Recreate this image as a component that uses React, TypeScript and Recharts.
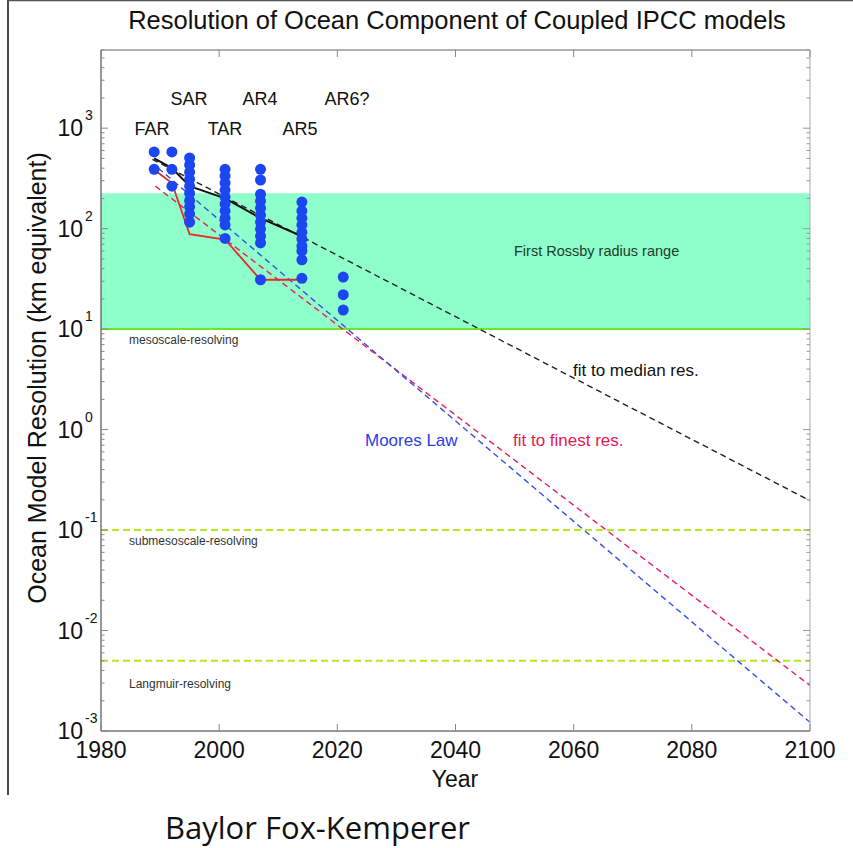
import React from "react";
import {
  ComposedChart,
  Line,
  Scatter,
  XAxis,
  YAxis,
  ReferenceArea,
  ReferenceLine,
} from "recharts";

// axis ticks
const yearTicks = [1980, 2000, 2020, 2040, 2060, 2080, 2100];
const decadeTicks = [0.001, 0.01, 0.1, 1, 10, 100, 1000];
const minorSteps = [2, 3, 4, 5, 6, 7, 8, 9];

// model resolution (km) per IPCC report generation
const modelYears = [1989, 1992, 1995, 2001, 2007, 2014, 2021];
const modelRes = [
  [580, 390],
  [580, 390, 265],
  [505, 430, 365, 310, 265, 225, 190, 165, 140, 116],
  [390, 335, 285, 242, 206, 176, 150, 127, 109, 80],
  [390, 305, 220, 188, 160, 136, 116, 99, 84, 72, 31],
  [184, 150, 127, 109, 92, 79, 67, 60, 49, 32],
  [33, 22, 15.5],
];

// median and finest resolution per report
const trackYears = [1989, 1992, 1995, 2001, 2007, 2014];
const medianRes = [500, 400, 265, 200, 127, 84];
const finestRes = [385, 285, 88, 78, 31, 31];

// straight fits (log space), start and end
const medianFitYears = [1988.7, 2100];
const medianFitRes = [490, 0.196];
const finestFitYears = [1989.2, 2100];
const finestFitRes = [265, 0.00284];
const mooreYears = [1989.7, 2100];
const mooreRes = [400, 0.00122];

// regimes
const rossbyBand = [10, 225];
const submesoLimit = 0.1;
const langmuirLimit = 0.005;

const FONT = "'Liberation Sans', Arial, Helvetica, sans-serif";

const pairs = (xs: number[], ys: number[]) =>
  xs.map((year, i) => ({ year, km: ys[i] }));

const dots = modelYears.flatMap((year, i) =>
  modelRes[i].map((km) => ({ year, km }))
);

const logTicks = [
  ...decadeTicks,
  ...decadeTicks.flatMap((d) => minorSteps.map((m) => d * m)),
].filter((v) => v <= 6000);

const isMajor = (v: number) => {
  const l = Math.log10(v);
  return Math.abs(l - Math.round(l)) < 1e-6;
};

const LeftTick = (props: any) => {
  const { x, y, payload } = props;
  const v = payload.value;
  const major = isMajor(v);
  const exp = Math.round(Math.log10(v));
  return (
    <g>
      <line x1={x} x2={x + (major ? 7 : 3.5)} y1={y} y2={y} stroke="#888" />
      {major && (
        <g fontFamily={FONT} fill="#111">
          <text x={x - 18} y={y + 8} textAnchor="end" fontSize={23}>
            10
          </text>
          <text x={x - 16} y={y - 8} fontSize={14}>
            {exp}
          </text>
        </g>
      )}
    </g>
  );
};

const RightTick = (props: any) => {
  const { x, y, payload } = props;
  const major = isMajor(payload.value);
  return <line x1={x} x2={x - (major ? 7 : 3.5)} y1={y} y2={y} stroke="#999" />;
};

const BottomTick = (props: any) => {
  const { x, y, payload } = props;
  return (
    <g>
      <line x1={x} x2={x} y1={y} y2={y - 7} stroke="#888" />
      <text
        x={x}
        y={y + 27}
        textAnchor="middle"
        fontSize={23}
        fontFamily={FONT}
        fill="#111"
      >
        {payload.value}
      </text>
    </g>
  );
};

const TopTick = (props: any) => {
  const { x, y } = props;
  return <line x1={x} x2={x} y1={y} y2={y + 7} stroke="#888" />;
};

const Dot = (props: any) => (
  <circle cx={props.cx} cy={props.cy} r={5.5} fill="#1c47f0" />
);

export default function App() {
  return (
    <div
      style={{
        position: "absolute",
        left: 0,
        top: 0,
        width: 853,
        height: 848,
        background: "#fff",
      }}
    >
      <ComposedChart
        width={853}
        height={848}
        margin={{ top: 0, right: 0, bottom: 0, left: 0 }}
        style={{ fontFamily: FONT }}
      >
        <XAxis
          xAxisId="b"
          dataKey="year"
          type="number"
          domain={[1980, 2100]}
          ticks={yearTicks}
          interval={0}
          allowDataOverflow
          height={117}
          tickSize={0}
          tickMargin={0}
          tickLine={false}
          axisLine={{ stroke: "#333" }}
          tick={<BottomTick />}
        />
        <XAxis
          xAxisId="t"
          orientation="top"
          dataKey="year"
          type="number"
          domain={[1980, 2100]}
          ticks={yearTicks}
          interval={0}
          allowDataOverflow
          height={50}
          tickSize={0}
          tickMargin={0}
          tickLine={false}
          axisLine={{ stroke: "#666" }}
          tick={<TopTick />}
        />
        <YAxis
          yAxisId="l"
          dataKey="km"
          scale="log"
          type="number"
          domain={[0.001, 6000]}
          ticks={logTicks}
          interval={0}
          allowDataOverflow
          width={101}
          tickSize={0}
          tickMargin={0}
          tickLine={false}
          axisLine={{ stroke: "#333" }}
          tick={<LeftTick />}
        />
        <YAxis
          yAxisId="r"
          orientation="right"
          scale="log"
          type="number"
          domain={[0.001, 6000]}
          ticks={logTicks}
          interval={0}
          allowDataOverflow
          width={43}
          tickSize={0}
          tickMargin={0}
          tickLine={false}
          axisLine={{ stroke: "#aaa" }}
          tick={<RightTick />}
        />

        <ReferenceArea
          xAxisId="b"
          yAxisId="l"
          x1={1980}
          x2={2100}
          y1={rossbyBand[0]}
          y2={rossbyBand[1]}
          fill="#8effcb"
          fillOpacity={1}
          stroke="none"
        />
        <ReferenceLine
          xAxisId="b"
          yAxisId="l"
          y={rossbyBand[0]}
          stroke="#6ae62c"
          strokeWidth={2}
        />
        <ReferenceLine
          xAxisId="b"
          yAxisId="l"
          y={submesoLimit}
          stroke="#b5e81f"
          strokeWidth={2}
          strokeDasharray="7 4"
        />
        <ReferenceLine
          xAxisId="b"
          yAxisId="l"
          y={langmuirLimit}
          stroke="#b5e81f"
          strokeWidth={2}
          strokeDasharray="7 4"
        />

        <Line
          xAxisId="b"
          yAxisId="l"
          data={pairs(medianFitYears, medianFitRes)}
          dataKey="km"
          stroke="#222"
          strokeWidth={1.4}
          strokeDasharray="6 4"
          dot={false}
          activeDot={false}
          isAnimationActive={false}
        />
        <Line
          xAxisId="b"
          yAxisId="l"
          data={pairs(finestFitYears, finestFitRes)}
          dataKey="km"
          stroke="#ec1b55"
          strokeWidth={1.4}
          strokeDasharray="6 4"
          dot={false}
          activeDot={false}
          isAnimationActive={false}
        />
        <Line
          xAxisId="b"
          yAxisId="l"
          data={pairs(mooreYears, mooreRes)}
          dataKey="km"
          stroke="#3350e6"
          strokeWidth={1.4}
          strokeDasharray="6 4"
          dot={false}
          activeDot={false}
          isAnimationActive={false}
        />
        <Scatter
          xAxisId="b"
          yAxisId="l"
          data={dots}
          dataKey="km"
          shape={<Dot />}
          isAnimationActive={false}
        />
        <Line
          xAxisId="b"
          yAxisId="l"
          data={pairs(trackYears, medianRes)}
          dataKey="km"
          stroke="#111"
          strokeWidth={2}
          dot={false}
          activeDot={false}
          isAnimationActive={false}
        />
        <Line
          xAxisId="b"
          yAxisId="l"
          data={pairs(trackYears, finestRes)}
          dataKey="km"
          stroke="#e8282a"
          strokeWidth={1.8}
          dot={false}
          activeDot={false}
          isAnimationActive={false}
        />
      </ComposedChart>

      <svg
        width={853}
        height={848}
        style={{ position: "absolute", left: 0, top: 0, pointerEvents: "none" }}
        fontFamily={FONT}
      >
        <line x1={8} x2={8} y1={0} y2={795} stroke="#111" strokeWidth={1.5} />
        <line x1={8} x2={853} y1={0.5} y2={0.5} stroke="#555" strokeWidth={1.5} />
        <text x={457} y={29} textAnchor="middle" fontSize={25.5} fill="#111">
          Resolution of Ocean Component of Coupled IPCC models
        </text>
        <g fontSize={18} fill="#111" textAnchor="middle">
          <text x={189} y={105}>SAR</text>
          <text x={260} y={105}>AR4</text>
          <text x={347} y={105}>AR6?</text>
          <text x={152} y={135}>FAR</text>
          <text x={225} y={135}>TAR</text>
          <text x={300} y={135}>AR5</text>
        </g>
        <text x={514} y={256} fontSize={14.5} fill="#1d3b2a">
          First Rossby radius range
        </text>
        <g fontSize={12} fill="#333">
          <text x={129} y={344}>mesoscale-resolving</text>
          <text x={129} y={545}>submesoscale-resolving</text>
          <text x={129} y={688}>Langmuir-resolving</text>
        </g>
        <text x={573} y={376} fontSize={17} fill="#111">
          fit to median res.
        </text>
        <text x={365} y={446} fontSize={17} fill="#2b3de8">
          Moores Law
        </text>
        <text x={513} y={446} fontSize={17} fill="#e8174f">
          fit to finest res.
        </text>
        <text
          x={46}
          y={378}
          fontSize={25}
          fill="#111"
          textAnchor="middle"
          transform="rotate(-90 46 378)"
        >
          Ocean Model Resolution (km equivalent)
        </text>
        <text x={455} y={787} fontSize={23} fill="#111" textAnchor="middle">
          Year
        </text>
        <text
          x={165}
          y={839}
          fontSize={31}
          fill="#111"
          fontFamily="'Open Sans', 'Noto Sans', sans-serif"
        >
          Baylor Fox-Kemperer
        </text>
      </svg>
    </div>
  );
}
